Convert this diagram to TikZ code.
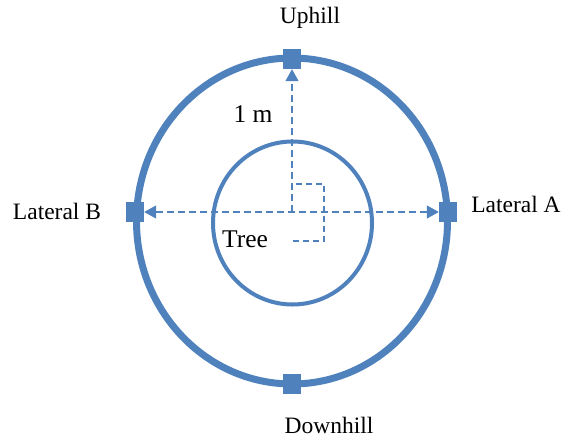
\documentclass[tikz,border=0pt]{standalone}
\usepackage{fontspec}
\setmainfont{Liberation Serif}
\usepackage{xcolor}
\usetikzlibrary{arrows.meta,positioning,shapes.geometric}
\definecolor{plotblue}{RGB}{79,129,189}

\begin{document}
\begin{tikzpicture}[x=1pt, y=-1pt,
  marker/.style={fill=plotblue, inner sep=0pt, minimum width=18pt,
    minimum height=20pt},
  ring/.style={draw=plotblue, line width=7pt},
  trunk/.style={draw=plotblue, line width=4pt},
  tip/.tip={Triangle[length=12pt, width=13pt, fill=plotblue]},
  arr/.style={draw=plotblue, line width=1.5pt, dash pattern=on 7pt off 4pt,
    -tip},
  guide/.style={draw=plotblue, line width=1.3pt, dash pattern=on 6pt off 4pt},
  lbl/.style={font=\fontsize{23.5}{26}\selectfont, inner sep=0pt},
  biglbl/.style={font=\fontsize{25.5}{28}\selectfont, inner sep=0pt},
]
  \useasboundingbox (0,0) rectangle (561,439);

  % plot ring and tree
  \draw[ring] (292,221) ellipse (155.5 and 163);
  \draw[trunk] (292.5,223) ellipse (79.5 and 81.5);

  \node[marker] (up)   at (292,59)  {};
  \node[marker] (down) at (292,384) {};
  \node[marker] (latb) at (135,212) {};
  \node[marker] (lata) at (448,212) {};

  \coordinate (c) at (292,212);

  % distances from the tree
  \draw[arr] (c) -- (up.south);
  \draw[arr, tip-tip] (latb.east) -- (lata.west);
  \draw[guide] (296,184) -| (324,241) -- (293,241);

  \node[lbl]    (uphill)   at (310,18)  {Uphill};
  \node[biglbl] (onem)     at (253,114) {1 m};
  \node[lbl]    (latbtxt)  at (57,211)  {Lateral B};
  \node[lbl]    (latatxt)  at (516,204) {Lateral A};
  \node[biglbl] (tree)     at (245,239) {Tree};
  \node[lbl]    (downhill) at (329,425) {Downhill};
\end{tikzpicture}
\end{document}
